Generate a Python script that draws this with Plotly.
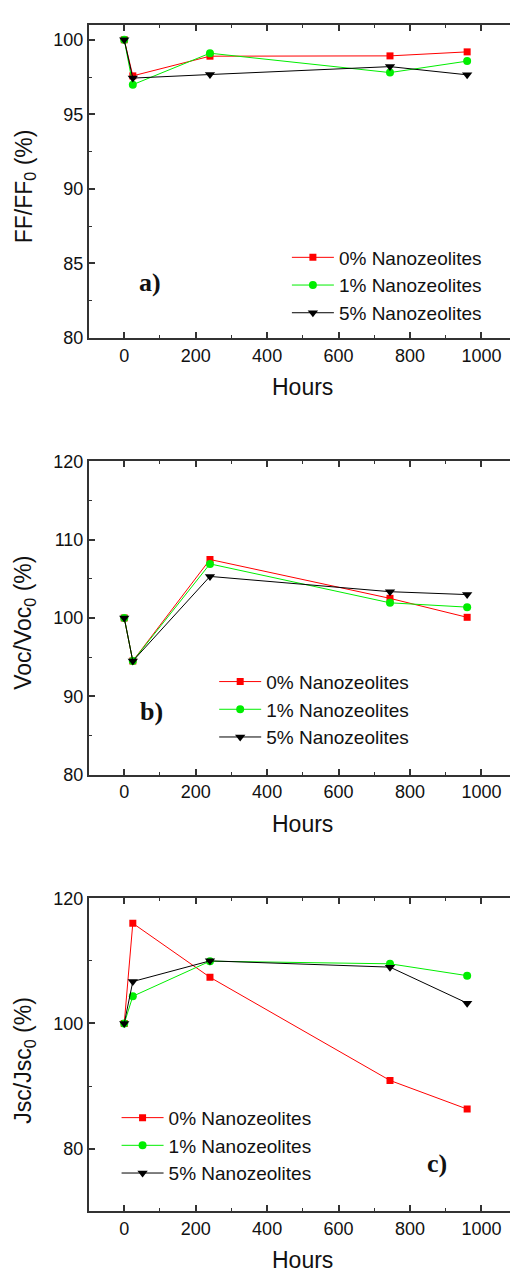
import plotly.graph_objects as go

# The page body has an 8px margin, so the figure is drawn 8px smaller and all
# pixel positions below are reference pixels minus 8.
OFF = 8
W, H = 518 - OFF, 1283 - OFF

hours = [0, 24, 240, 744, 960]
series_names = ["0% Nanozeolites", "1% Nanozeolites", "5% Nanozeolites"]

ff_0 = [100, 97.58, 98.9, 98.92, 99.19]
ff_1 = [100, 96.99, 99.1, 97.8, 98.57]
ff_5 = [100, 97.43, 97.67, 98.2, 97.65]

voc_0 = [100, 94.5, 107.46, 102.5, 100.08]
voc_1 = [100, 94.5, 106.9, 101.93, 101.38]
voc_5 = [100, 94.5, 105.3, 103.35, 102.98]

jsc_0 = [100, 116.0, 107.38, 90.9, 86.33]
jsc_1 = [100, 104.35, 109.95, 109.53, 107.64]
jsc_5 = [100, 106.7, 110.0, 109.0, 103.25]

colors = ["#FF0000", "#00EE00", "#000000"]
symbols = ["square", "circle", "triangle-down"]
msizes = [7, 8, 9]

panels = [
    ([ff_0, ff_1, ff_5], "FF/FF<sub>0</sub> (%)", [80, 101], 5, 2.5),
    ([voc_0, voc_1, voc_5], "Voc/Voc<sub>0</sub> (%)", [80, 120], 10, 5),
    ([jsc_0, jsc_1, jsc_5], "Jsc/Jsc<sub>0</sub> (%)", [70, 120], 20, 10),
]

# reference pixel layout of each panel (top, bottom)
panel_px = [(15, 333), (458.3, 776.7), (902.3, 1220.3)]
left_px = 89.3
right_px = 518

def fx(px):
    return (px - OFF) / W

def fy(py):
    return 1 - (py - OFF) / H

# x range so that 0 sits at x=124.7 and 1000 at 483.3
x_per_px = 1000 / (483.3 - 124.7)
x_lo = -(124.7 - left_px) * x_per_px
x_hi = (right_px - 124.7) * x_per_px

fig = go.Figure()
font = "Liberation Sans, Arial, sans-serif"
axis_color = "#333333"

legend_pos = [(288, 232), (215, 663), (117, 1106)]
label_pos = [(151, 277, "a)"), (152, 713, "b)"), (439, 1172, "c)")]

annotations = []
for i, (vals, ytitle, yrange, dmaj, dmin) in enumerate(panels):
    n = "" if i == 0 else str(i + 1)
    leg = "legend" if i == 0 else f"legend{i + 1}"
    for j in range(3):
        fig.add_trace(go.Scatter(
            x=hours, y=vals[j], name=series_names[j], mode="lines+markers",
            line=dict(color=colors[j], width=1),
            marker=dict(symbol=symbols[j], size=msizes[j], color=colors[j]),
            xaxis="x" + n, yaxis="y" + n, legend=leg,
        ))
    top, bot = panel_px[i]
    xa = dict(
        domain=[fx(left_px), 1.0], range=[x_lo, x_hi], anchor="y" + n,
        tickmode="linear", tick0=0, dtick=200,
        ticks="inside", ticklen=6, tickwidth=1.5, tickcolor=axis_color,
        minor=dict(ticks="inside", ticklen=3, dtick=100, tick0=0, tickcolor=axis_color, tickwidth=1.2),
        showline=True, linewidth=2, linecolor=axis_color, mirror="ticks",
        showgrid=False, zeroline=False,
        tickfont=dict(family=font, size=18, color="#111"),
    )
    ya = dict(
        domain=[fy(bot), fy(top)], range=yrange, anchor="x" + n,
        tickmode="linear", tick0=0, dtick=dmaj,
        ticks="inside", ticklen=6, tickwidth=1.5, tickcolor=axis_color,
        minor=dict(ticks="inside", ticklen=3, dtick=dmin, tick0=0, tickcolor=axis_color, tickwidth=1.2),
        showline=True, linewidth=2, linecolor=axis_color, mirror="ticks",
        showgrid=False, zeroline=False,
        tickfont=dict(family=font, size=18, color="#111"),
    )
    fig.update_layout(**{"xaxis" + n: xa, "yaxis" + n: ya})
    lx, ly = legend_pos[i]
    fig.update_layout(**{leg: dict(
        x=fx(lx), y=fy(ly), xanchor="left", yanchor="top",
        font=dict(family=font, size=19, color="#111"),
        bgcolor="rgba(0,0,0,0)", borderwidth=0, itemwidth=42,
    )})
    annotations.append(dict(
        text="Hours", x=fx(304), y=fy(bot + 50), xref="paper", yref="paper",
        showarrow=False, font=dict(family=font, size=23, color="#111"),
        xanchor="center", yanchor="middle",
    ))
    annotations.append(dict(
        text=ytitle, x=fx(25), y=fy((top + bot) / 2 + 5), xref="paper", yref="paper",
        showarrow=False, textangle=-90, font=dict(family=font, size=23, color="#111"),
        xanchor="center", yanchor="middle",
    ))
    tx, ty, tt = label_pos[i]
    annotations.append(dict(
        text="<b>" + tt + "</b>", x=fx(tx), y=fy(ty), xref="paper", yref="paper",
        showarrow=False, font=dict(family="Liberation Serif, Times New Roman, serif", size=26, color="#111"),
        xanchor="center", yanchor="middle",
    ))

fig.update_layout(
    width=W, height=H, margin=dict(l=0, r=0, t=0, b=0),
    paper_bgcolor="white", plot_bgcolor="white",
    annotations=annotations, showlegend=True,
)

fig.write_html("out.html")
